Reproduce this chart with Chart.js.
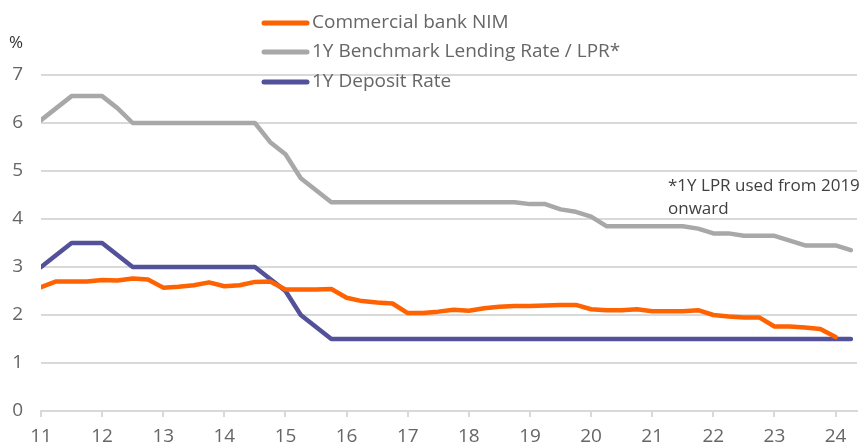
<!DOCTYPE html>
<html>
<head>
<meta charset="utf-8">
<script src="https://cdn.jsdelivr.net/npm/chart.js@4.4.1/dist/chart.umd.min.js"></script>
<style>
  body { margin: 0; background: #fff; }
</style>
</head>
<body>
<canvas id="myChart" width="865" height="446"></canvas>
<script>
// quarterly data, 2011Q1 .. 2024Q2
const yearLabels = ['11', '12', '13', '14', '15', '16', '17', '18', '19', '20', '21', '22', '23', '24'];
const quarters = [];
yearLabels.forEach(y => ['Q1', 'Q2', 'Q3', 'Q4'].forEach(q => quarters.push('20' + y + q)));
quarters.length = 54;

const nim = [
  2.58, 2.70, 2.70, 2.70,
  2.73, 2.72, 2.76, 2.74,
  2.57, 2.59, 2.62, 2.68,
  2.60, 2.62, 2.69, 2.70,
  2.53, 2.53, 2.53, 2.54,
  2.36, 2.29, 2.26, 2.24,
  2.04, 2.04, 2.07, 2.11,
  2.09, 2.14, 2.17, 2.19,
  2.19, 2.20, 2.21, 2.21,
  2.12, 2.10, 2.10, 2.12,
  2.08, 2.08, 2.08, 2.10,
  2.00, 1.97, 1.95, 1.95,
  1.76, 1.76, 1.74, 1.71,
  1.54, null
];
const lendingRate = [
  6.06, 6.31, 6.56, 6.56,
  6.56, 6.31, 6.00, 6.00,
  6.00, 6.00, 6.00, 6.00,
  6.00, 6.00, 6.00, 5.60,
  5.35, 4.85, 4.60, 4.35,
  4.35, 4.35, 4.35, 4.35,
  4.35, 4.35, 4.35, 4.35,
  4.35, 4.35, 4.35, 4.35,
  4.31, 4.31, 4.20, 4.15,
  4.05, 3.85, 3.85, 3.85,
  3.85, 3.85, 3.85, 3.80,
  3.70, 3.70, 3.65, 3.65,
  3.65, 3.55, 3.45, 3.45,
  3.45, 3.35
];
const depositRate = [
  3.00, 3.25, 3.50, 3.50,
  3.50, 3.25, 3.00, 3.00,
  3.00, 3.00, 3.00, 3.00,
  3.00, 3.00, 3.00, 2.75,
  2.50, 2.00, 1.75, 1.50,
  1.50, 1.50, 1.50, 1.50,
  1.50, 1.50, 1.50, 1.50,
  1.50, 1.50, 1.50, 1.50,
  1.50, 1.50, 1.50, 1.50,
  1.50, 1.50, 1.50, 1.50,
  1.50, 1.50, 1.50, 1.50,
  1.50, 1.50, 1.50, 1.50,
  1.50, 1.50, 1.50, 1.50,
  1.50, 1.50
];
const yTicks = [0, 1, 2, 3, 4, 5, 6, 7];
const note = ['*1Y LPR used from 2019', 'onward'];

const FONT = '"Open Sans", sans-serif';
const toPoints = arr => arr.map((v, i) => ({ x: i, y: v }));

function line(label, values, color) {
  return {
    label: label,
    data: toPoints(values),
    borderColor: color,
    backgroundColor: color,
    borderWidth: 4.5,
    borderCapStyle: 'round',
    borderJoinStyle: 'round',
    pointRadius: 0,
    tension: 0
  };
}

// legend, % sign and footnote drawn straight on the canvas
const extras = {
  id: 'extras',
  afterDraw(chart) {
    const ctx = chart.ctx;
    ctx.save();
    ctx.font = '19px ' + FONT;
    ctx.textBaseline = 'middle';
    const rows = [23, 52, 82];
    chart.data.datasets.forEach((ds, k) => {
      ctx.strokeStyle = ds.borderColor;
      ctx.lineWidth = 5;
      ctx.lineCap = 'round';
      ctx.beginPath();
      ctx.moveTo(264, rows[k]);
      ctx.lineTo(307, rows[k]);
      ctx.stroke();
      ctx.fillStyle = '#666';
      ctx.fillText(ds.label, 312, rows[k]);
    });
    ctx.fillStyle = '#333';
    ctx.font = '17px ' + FONT;
    ctx.fillText('%', 9, 43);
    ctx.fillStyle = '#404040';
    note.forEach((t, k) => ctx.fillText(t, 668, 186 + k * 23));
    ctx.restore();
  }
};

new Chart(document.getElementById('myChart'), {
  type: 'line',
  data: {
    datasets: [
      line('Commercial bank NIM', nim, '#FF6200'),
      line('1Y Benchmark Lending Rate / LPR*', lendingRate, '#A8A8A8'),
      line('1Y Deposit Rate', depositRate, '#525199')
    ]
  },
  options: {
    responsive: false,
    animation: false,
    layout: { padding: { top: 75, right: 8, left: 0, bottom: 0 } },
    plugins: {
      legend: { display: false },
      tooltip: { enabled: false }
    },
    scales: {
      x: {
        type: 'linear',
        min: 0,
        max: 53.4,
        afterBuildTicks: s => { s.ticks = yearLabels.map((l, k) => ({ value: k * 4 })); },
        afterFit: s => { s.height = 35; },
        ticks: {
          autoSkip: false,
          maxRotation: 0,
          padding: 8,
          color: '#666',
          font: { family: FONT, size: 19 },
          callback: v => yearLabels[v / 4]
        },
        grid: { drawOnChartArea: false, drawTicks: true, tickLength: 6, color: '#d9d9d9', lineWidth: 2 },
        border: { color: '#d9d9d9', width: 2 }
      },
      y: {
        min: 0,
        max: 7,
        afterBuildTicks: s => { s.ticks = yTicks.map(v => ({ value: v })); },
        afterFit: s => { s.width = 41; },
        ticks: {
          padding: 18,
          color: '#666',
          font: { family: FONT, size: 19 }
        },
        grid: { drawTicks: false, color: '#d9d9d9', lineWidth: 2 },
        border: { display: false }
      }
    }
  },
  plugins: [extras]
});
</script>
</body>
</html>
